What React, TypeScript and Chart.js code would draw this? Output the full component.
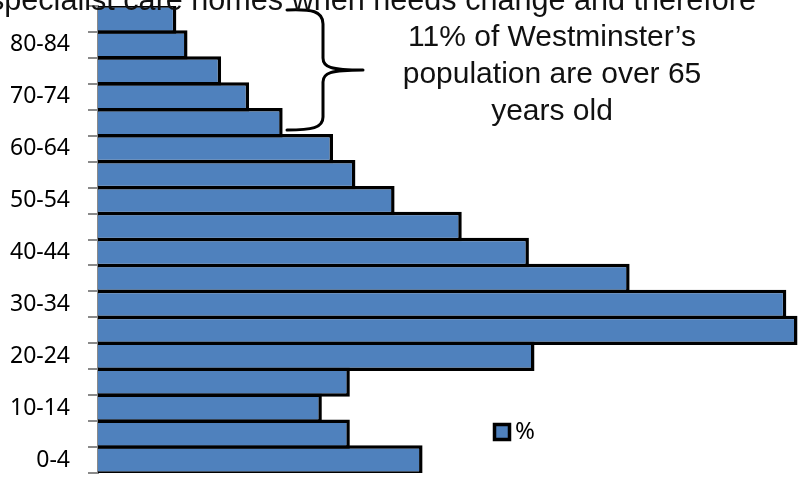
import React, { useEffect, useRef } from "react";
import { Chart, registerables } from "chart.js";

Chart.register(...registerables);

const ageGroups = [
  "0-4", "5-9", "10-14", "15-19", "20-24", "25-29", "30-34", "35-39", "40-44",
  "45-49", "50-54", "55-59", "60-64", "65-69", "70-74", "75-79", "80-84", "85+",
];
const percentValues = [
  5.8, 4.5, 4.0, 4.5, 7.8, 12.5, 12.3, 9.5, 7.7,
  6.5, 5.3, 4.6, 4.2, 3.3, 2.7, 2.2, 1.6, 1.4,
];
const seriesLabel = "%";
const headerText = "specialist care homes when needs change and therefore";
const noteLines = ["11% of Westminster\u2019s", "population are over 65", "years old"];

const BAR_BLUE = "#4F81BD";

const extrasPlugin = {
  id: "extras",
  afterDraw(chart: any) {
    const ctx = chart.ctx as CanvasRenderingContext2D;
    // curly brace
    ctx.save();
    ctx.strokeStyle = "#000";
    ctx.lineWidth = 3;
    ctx.lineCap = "round";
    ctx.lineJoin = "round";
    ctx.beginPath();
    ctx.moveTo(287, 10);
    ctx.bezierCurveTo(312, 9, 323, 11, 323, 24);
    ctx.lineTo(323, 58);
    ctx.bezierCurveTo(323, 67, 330, 70, 363, 70);
    ctx.bezierCurveTo(330, 70, 323, 73, 323, 82);
    ctx.lineTo(323, 117);
    ctx.bezierCurveTo(323, 128, 312, 130, 287, 130);
    ctx.stroke();
    ctx.restore();

    // legend
    const ds = chart.data.datasets[0];
    ctx.save();
    ctx.fillStyle = ds.backgroundColor;
    ctx.strokeStyle = "#000";
    ctx.lineWidth = 3.5;
    ctx.beginPath();
    ctx.rect(494.5, 424.5, 15, 15);
    ctx.fill();
    ctx.stroke();
    ctx.fillStyle = "#000";
    ctx.font = "24px 'Noto Sans'";
    ctx.textBaseline = "middle";
    ctx.textAlign = "left";
    ctx.fillText(ds.label, 515, 432);
    ctx.restore();
  },
};

export default function App() {
  const canvasRef = useRef<HTMLCanvasElement | null>(null);

  useEffect(() => {
    if (!canvasRef.current) return;
    const chart = new Chart(canvasRef.current, {
      type: "bar",
      data: {
        labels: ageGroups,
        datasets: [
          {
            label: seriesLabel,
            data: percentValues,
            backgroundColor: BAR_BLUE,
            borderColor: "#000",
            borderWidth: 3.5,
            borderSkipped: "start",
            barPercentage: 1.13,
            categoryPercentage: 1,
          },
        ],
      },
      options: {
        indexAxis: "y",
        animation: false,
        responsive: true,
        maintainAspectRatio: false,
        layout: { padding: { top: 6, bottom: 4, left: 0, right: 0 } },
        plugins: {
          legend: { display: false },
          tooltip: { enabled: false },
          title: { display: false },
        },
        scales: {
          x: {
            display: false,
            min: 0,
            max: 12.58,
          },
          y: {
            reverse: true,
            z: 1,
            grid: {
              display: true,
              drawOnChartArea: false,
              drawTicks: true,
              tickLength: 10,
              color: "#8a8a8a",
              lineWidth: 2,
              offset: true,
            },
            border: { display: true, color: "#8a8a8a", width: 2 },
            ticks: {
              autoSkip: false,
              padding: 18,
              color: "#000",
              font: { family: "'Noto Sans'", size: 23 },
              callback: (_v: any, i: number) => (i % 2 === 0 ? ageGroups[i] : ""),
            },
            afterFit: (scale: any) => {
              scale.width = 98;
              scale.paddingTop = 0;
              scale.paddingBottom = 0;
            },
          },
        },
      },
      plugins: [extrasPlugin],
    });
    return () => chart.destroy();
  }, []);

  return (
    <div
      style={{
        position: "fixed",
        left: 0,
        top: 0,
        width: 802,
        height: 477,
        overflow: "hidden",
        background: "#fff",
      }}
    >
      <canvas ref={canvasRef} style={{ position: "absolute", left: 0, top: 0 }} />
      <div
        style={{
          position: "absolute",
          left: -11,
          top: -16,
          whiteSpace: "nowrap",
          fontFamily: "'Liberation Sans', Arial, sans-serif",
          fontSize: 30.6,
          lineHeight: "30px",
          color: "#111",
        }}
      >
        {headerText}
      </div>
      <div
        style={{
          position: "absolute",
          left: 352,
          top: 17,
          width: 400,
          textAlign: "center",
          fontFamily: "'Liberation Sans', Arial, sans-serif",
          fontSize: 30,
          lineHeight: "37px",
          color: "#111",
        }}
      >
        {noteLines.map((l, i) => (
          <div key={i}>{l}</div>
        ))}
      </div>
    </div>
  );
}
